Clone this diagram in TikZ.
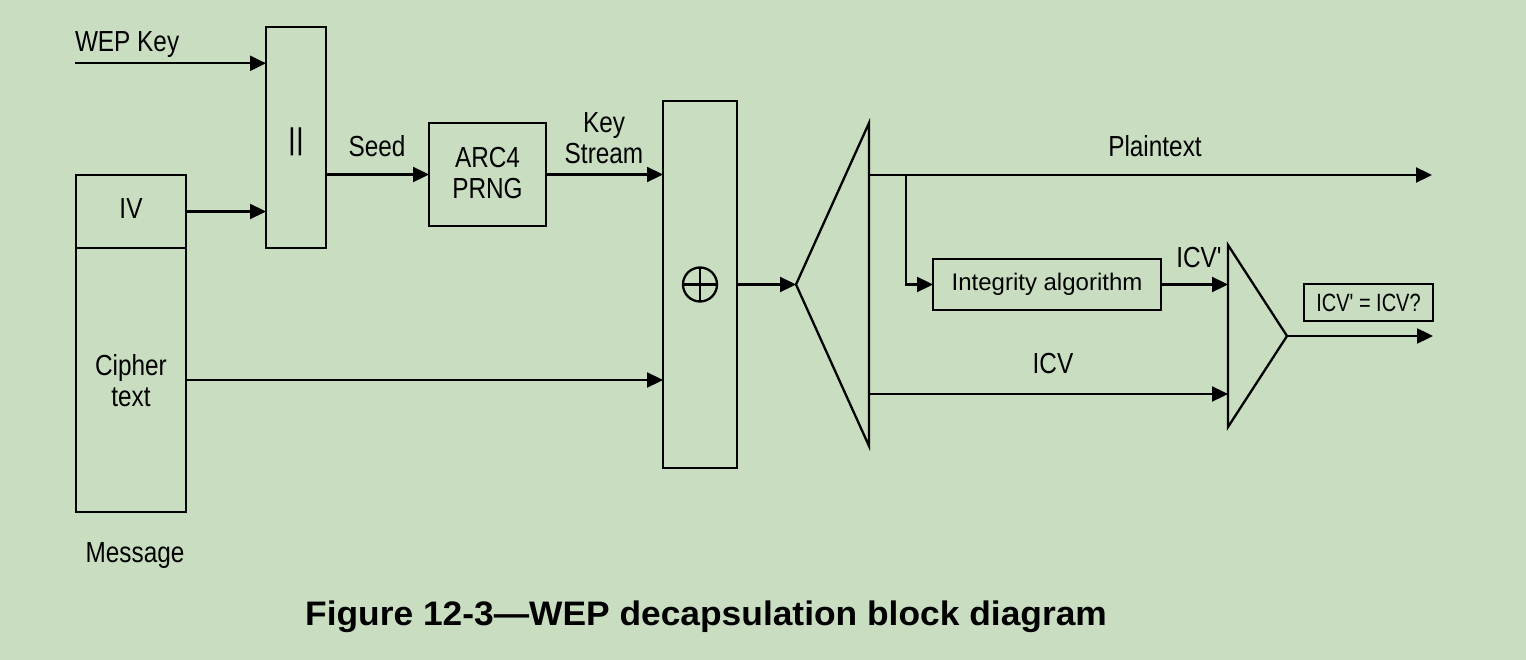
\documentclass[tikz,border=0pt]{standalone}
\usepackage{fontspec}
\setmainfont{Liberation Sans}
\newfontfamily\nf{Liberation Sans}[FakeStretch=0.84]
\newfontfamily\smfont{Liberation Sans}[FakeStretch=0.8]
\newfontfamily\capf{Liberation Sans}[FakeStretch=1.04]
\usetikzlibrary{arrows.meta,calc}
\definecolor{bgc}{RGB}{201,222,193}
\tikzset{
  ln/.style={line width=2.3pt, draw=black},
  arr/.style={ln, -{Triangle[length=16pt,width=15pt]}},
  blk/.style={ln, rectangle, inner sep=0pt, outer sep=0pt},
  lbl/.style={inner sep=0pt, outer sep=0pt, font=\nf\fontsize{29}{31}\selectfont, align=center},
}
\begin{document}
\begin{tikzpicture}[x=1pt,y=-1pt]
\fill[bgc] (0,0) rectangle (1526,660);
\useasboundingbox (0,0) rectangle (1526,660);

% blocks
\node[blk, minimum width=60pt, minimum height=221pt] (cat) at (296,137.5) {};
\node[blk, minimum width=110pt, minimum height=73pt] (iv) at (131,211.5) {};
\node[blk, minimum width=110pt, minimum height=264pt] (ct) at (131,380) {};
\node[blk, minimum width=117pt, minimum height=103pt] (arc) at (487.5,174.5) {};
\node[blk, minimum width=74pt, minimum height=367pt] (xor) at (700,284.5) {};
\node[blk, minimum width=228pt, minimum height=51pt, font=\fontsize{24}{26}\selectfont] (integ) at (1047,284.5) {Integrity algorithm};
\node[blk, minimum width=129pt, minimum height=37pt, font=\smfont\fontsize{25}{26}\selectfont] (res) at (1368.5,302.5) {ICV' = ICV?};

% xor symbol
\draw[ln] (xor.center) circle[radius=17pt];
\draw[ln] ($(xor.center)+(-17,0)$) -- ($(xor.center)+(17,0)$);
\draw[ln] ($(xor.center)+(0,-17)$) -- ($(xor.center)+(0,17)$);

% splitter and comparator
\coordinate (spT) at (869,123);
\coordinate (spB) at (869,446);
\coordinate (spTip) at (796,284.5);
\draw[ln, line join=miter] (spT) -- (spB) -- (spTip) -- cycle;
\coordinate (cmpT) at (1228,245);
\coordinate (cmpB) at (1228,427);
\coordinate (cmpTip) at (1287,336);
\draw[ln, line join=miter] (cmpT) -- (cmpB) -- (cmpTip) -- cycle;

% labels
\node[lbl, anchor=base west] (wepk) at (75,52) {WEP Key};
\node[lbl, anchor=base, font=\fontsize{30}{31}\selectfont] (bars) at (296,150) {||};
\node[lbl, anchor=base] (ivt) at (131,219) {IV};
\node[lbl] (ctt) at (131,381) {Cipher\\text};
\node[lbl, anchor=base] (msg) at (135,562) {Message};
\node[lbl, anchor=base] (seed) at (377,157) {Seed};
\node[lbl] (arct) at (487.5,173) {ARC4\\PRNG};
\node[lbl] (kst) at (604,138) {Key\\Stream};
\node[lbl, anchor=base] (pt) at (1155,157) {Plaintext};
\node[lbl, anchor=base] (icvp) at (1199,268) {ICV'};
\node[lbl, anchor=base] (icv) at (1053,373) {ICV};
\node[inner sep=0pt, anchor=base west, font=\capf\bfseries\fontsize{34}{36}\selectfont] (cap) at (305,625) {Figure 12-3—WEP decapsulation block diagram};

% connectors
\coordinate (wk) at (75,63.3);
\draw[arr] (wk) -- (wk -| cat.west);
\draw[arr] (iv.east) -- (iv.east -| cat.west);
\draw[arr] (arc.west -| cat.east) -- (arc.west);
\draw[arr] (arc.east) -- (arc.east -| xor.west);
\draw[arr] (ct.east) -- (ct.east -| xor.west);
\draw[arr] (xor.east) -- (spTip);
\coordinate (ptEnd) at (1432,175);
\draw[arr] (ptEnd -| spT) -- (ptEnd);
\coordinate (br) at (905.7,175);
\draw[arr] (br) |- (integ.west);
\coordinate (icvY) at (0,394);
\draw[arr] (spT |- icvY) -- (cmpT |- icvY);
\draw[arr] (integ.east) -- (integ.east -| cmpT);
\coordinate (outEnd) at (1433,336);
\draw[arr] (cmpTip) -- (outEnd);
\end{tikzpicture}
\end{document}
